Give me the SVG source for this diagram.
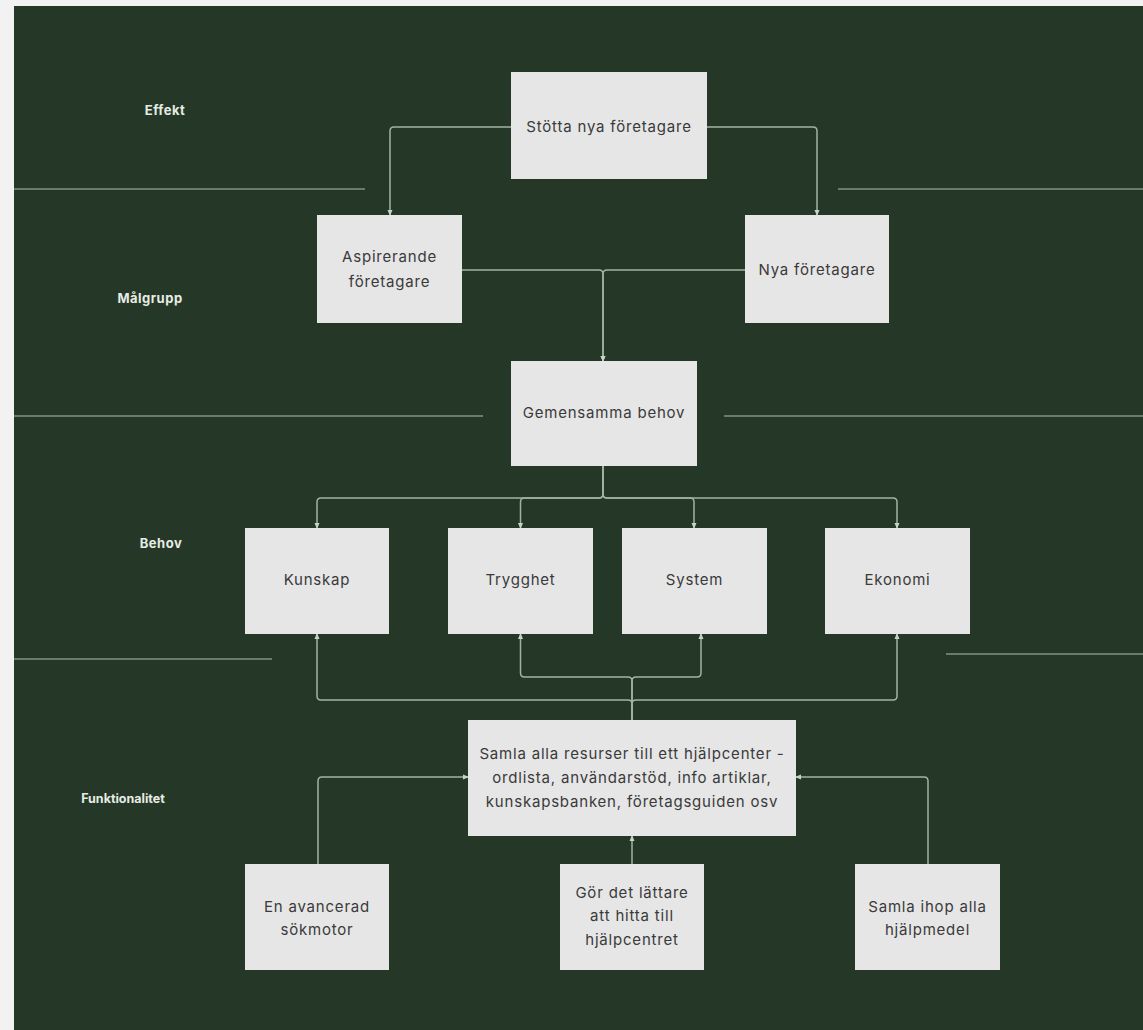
<svg xmlns="http://www.w3.org/2000/svg" width="1143" height="1030" viewBox="0 0 1143 1030">
<style>
.bg{fill:#253828}
.box{fill:#e6e6e6}
.t{font-family:Inter,"Noto Sans","Liberation Sans",sans-serif;font-size:15px;letter-spacing:0.8px;fill:#3a3a3a;text-anchor:middle}
.lbl{font-family:Inter,"Noto Sans","Liberation Sans",sans-serif;font-size:13px;letter-spacing:0.5px;font-weight:700;fill:#e6ece4;text-anchor:middle}
.lbl.n{font-size:12.5px;letter-spacing:0}
.sep{stroke:#7f937f;stroke-width:1.5;fill:none}
.c{stroke:#a3b3a1;stroke-width:1.5;fill:none;marker-end:url(#ah)}
</style>
<defs>
<marker id="ah" viewBox="0 0 6 6" refX="5" refY="3" markerWidth="4" markerHeight="4" orient="auto" markerUnits="strokeWidth">
<path d="M0,0.5 L6,3 L0,5.5 Z" fill="#c8d2c6"/>
</marker>
</defs>
<rect x="0" y="0" width="1143" height="1030" fill="#f2f2f2"/>
<rect class="bg" x="14" y="6" width="1129" height="1024"/>
<g id="separators">
<line class="sep" x1="14" y1="189" x2="365" y2="189"/>
<line class="sep" x1="838" y1="189" x2="1143" y2="189"/>
<line class="sep" x1="14" y1="416" x2="483" y2="416"/>
<line class="sep" x1="724" y1="416" x2="1143" y2="416"/>
<line class="sep" x1="14" y1="659" x2="272" y2="659"/>
<line class="sep" x1="946" y1="654" x2="1143" y2="654"/>
</g>
<g id="labels">
<text class="lbl" x="165" y="115">Effekt</text>
<text class="lbl" x="150" y="303">Målgrupp</text>
<text class="lbl" x="161" y="548">Behov</text>
<text class="lbl n" x="123" y="803">Funktionalitet</text>
</g>
<g id="connectors">
<path class="c" d="M511,127 H394 Q390,127 390,131 V215"/>
<path class="c" d="M707,127 H813 Q817,127 817,131 V215"/>
<path class="c" d="M462,270 H599 Q603,270 603,274 V361"/>
<path class="c" d="M745,270 H607 Q603,270 603,274 V361"/>
<path class="c" d="M603,466 V494 Q603,498 599,498 H321 Q317,498 317,502 V528"/>
<path class="c" d="M603,466 V494 Q603,498 599,498 H524.5 Q520.5,498 520.5,502 V528"/>
<path class="c" d="M603,466 V494 Q603,498 607,498 H690 Q694,498 694,502 V528"/>
<path class="c" d="M603,466 V494 Q603,498 607,498 H893 Q897,498 897,502 V528"/>
<path class="c" d="M632,720 V704 Q632,700 628,700 H321 Q317,700 317,696 V634"/>
<path class="c" d="M632,720 V704 Q632,700 636,700 H893 Q897,700 897,696 V634"/>
<path class="c" d="M632,720 V681 Q632,677 628,677 H524.5 Q520.5,677 520.5,673 V634"/>
<path class="c" d="M632,720 V681 Q632,677 636,677 H697 Q701,677 701,673 V634"/>
<path class="c" d="M318,864 V781 Q318,777 322,777 H468"/>
<path class="c" d="M928,864 V781 Q928,777 924,777 H796"/>
<path class="c" d="M632,864 V836"/>
</g>
<g id="n-stotta">
<rect class="box" x="511" y="72" width="196" height="107"/>
<text class="t" x="609" y="132">Stötta nya företagare</text>
</g>
<g id="n-aspirerande">
<rect class="box" x="317" y="215" width="145" height="108"/>
<text class="t" x="389.5" y="262">Aspirerande</text>
<text class="t" x="389.5" y="287">företagare</text>
</g>
<g id="n-nya">
<rect class="box" x="745" y="215" width="144" height="108"/>
<text class="t" x="817" y="275">Nya företagare</text>
</g>
<g id="n-gemensamma">
<rect class="box" x="511" y="361" width="186" height="105"/>
<text class="t" x="604" y="418">Gemensamma behov</text>
</g>
<g id="n-kunskap">
<rect class="box" x="245" y="528" width="144" height="106"/>
<text class="t" x="317" y="585">Kunskap</text>
</g>
<g id="n-trygghet">
<rect class="box" x="448" y="528" width="145" height="106"/>
<text class="t" x="520.5" y="585">Trygghet</text>
</g>
<g id="n-system">
<rect class="box" x="622" y="528" width="145" height="106"/>
<text class="t" x="694.5" y="585">System</text>
</g>
<g id="n-ekonomi">
<rect class="box" x="825" y="528" width="145" height="106"/>
<text class="t" x="897.5" y="585">Ekonomi</text>
</g>
<g id="n-samla-alla">
<rect class="box" x="468" y="720" width="328" height="116"/>
<text class="t" x="632" y="759">Samla alla resurser till ett hjälpcenter -</text>
<text class="t" x="632" y="783">ordlista, användarstöd, info artiklar,</text>
<text class="t" x="632" y="807">kunskapsbanken, företagsguiden osv</text>
</g>
<g id="n-sokmotor">
<rect class="box" x="245" y="864" width="144" height="106"/>
<text class="t" x="317" y="912">En avancerad</text>
<text class="t" x="317" y="935">sökmotor</text>
</g>
<g id="n-gor">
<rect class="box" x="560" y="864" width="144" height="106"/>
<text class="t" x="632" y="898">Gör det lättare</text>
<text class="t" x="632" y="921">att hitta till</text>
<text class="t" x="632" y="945">hjälpcentret</text>
</g>
<g id="n-samla-ihop">
<rect class="box" x="855" y="864" width="145" height="106"/>
<text class="t" x="927.5" y="912">Samla ihop alla</text>
<text class="t" x="927.5" y="935">hjälpmedel</text>
</g>
</svg>
